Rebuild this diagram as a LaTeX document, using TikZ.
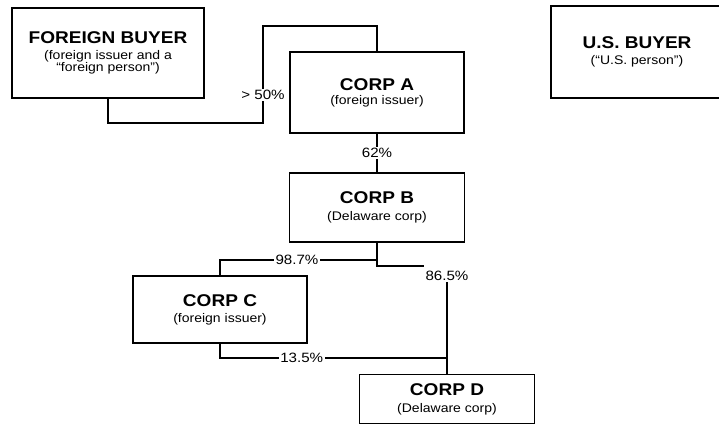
\documentclass[tikz,border=0pt]{standalone}
\usepackage{fontspec}
\setmainfont{Liberation Sans}[FakeStretch=1.12]
\newcommand{\ttl}{\fontsize{17}{19}\selectfont\bfseries}
\newcommand{\sbt}{\fontsize{12.5}{13}\selectfont}
\begin{document}
\begin{tikzpicture}[x=1pt,y=-1pt,
  box/.style={draw, line width=1.5pt, inner sep=0pt, align=center, fill=white},
  wire/.style={line width=1.8pt},
  pct/.style={fill=white, inner sep=1.5pt, font=\fontsize{13.5}{14}\selectfont}]
\useasboundingbox (0,0) rectangle (719,425);
\clip (0,0) rectangle (719,425);
\node[box, minimum width=192pt, minimum height=90pt] (fb) at (108,53)
  {{\ttl FOREIGN BUYER}\\[4pt]\sbt (foreign issuer and a\\ \sbt “foreign person”)};
\node[box, minimum width=174pt, minimum height=81pt] (a) at (377,92.5)
  {{\ttl CORP A}\\[2pt]\sbt (foreign issuer)};
\node[box, minimum width=175pt, minimum height=69pt] (b) at (377,207.5)
  {{\ttl CORP B}\\[5pt]\sbt (Delaware corp)};
\node[box, minimum width=174pt, minimum height=67pt] (c) at (220,309.5)
  {{\ttl CORP C}\\[4pt]\sbt (foreign issuer)};
\node[box, minimum width=175pt, minimum height=49pt] (d) at (447,399)
  {{\ttl CORP D}\\[5pt]\sbt (Delaware corp)};
\node[box, minimum width=172pt, minimum height=92pt] (us) at (637,52)
  {{\ttl U.S. BUYER}\\[4pt]\sbt (“U.S. person”)};
% connectors
\coordinate (k1) at (263,123);
\coordinate (k2) at (263,26);
\draw[wire] (fb.south) |- (k1) -- (k2) -| (a.north);
\node[pct] (l50) at (263,95) {> 50\%};
\draw[wire] (a.south) -- node[pct] (l62) {62\%} (b.south |- b.north);
\coordinate (bj) at (377,266);
\coordinate (bl) at (377,260);
\node[pct] (l86) at (447,276) {86.5\%};
\draw[wire] (b.south) -- (bj) -- (bj -| l86.west);
\draw[wire] (l86.south) -- (d.north);
\draw[wire] (bl) -| (c.north);
\node[pct] (l98) at (297,260) {98.7\%};
\coordinate (dj) at (447,358);
\draw[wire] (c.south) |- node[pct, pos=0.68] (l13) {13.5\%} (dj);
\end{tikzpicture}
\end{document}
